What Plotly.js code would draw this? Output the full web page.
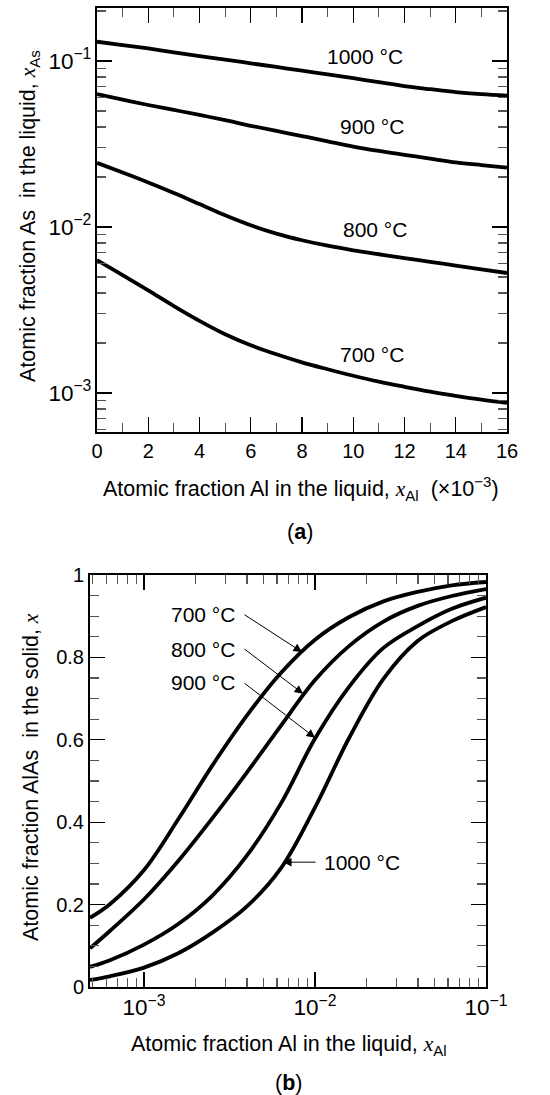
<!DOCTYPE html>
<html>
<head>
<meta charset="utf-8">
<script src="https://cdn.plot.ly/plotly-3.0.1.min.js"></script>
<style>
  html, body { margin: 0; padding: 0; background: #fff; }
  #chart { width: 550px; height: 1095px; }
</style>
</head>
<body>
<div id="chart"></div>
<script>
// ---------- Panel (a): x_As in liquid vs x_Al in liquid (x 10^-3) ----------
const xAlLiquid_a = [0, 1, 2, 3, 4, 5, 6, 7, 8, 9, 10, 11, 12, 13, 14, 15, 16];
const xAs_1000 = [0.1306, 0.1247, 0.1189, 0.1127, 0.1069, 0.1019, 0.0968, 0.0920, 0.0875, 0.0830, 0.0787, 0.0745, 0.0706, 0.0676, 0.0649, 0.0631, 0.0618];
const xAs_900  = [0.0631, 0.0585, 0.0543, 0.0507, 0.0473, 0.0440, 0.0407, 0.0379, 0.0353, 0.0328, 0.0305, 0.0287, 0.0272, 0.0258, 0.0245, 0.0236, 0.0228];
const xAs_800  = [0.02432, 0.02128, 0.01854, 0.01603, 0.01374, 0.01175, 0.01023, 0.00912, 0.00832, 0.00771, 0.00724, 0.00685, 0.00649, 0.00617, 0.00585, 0.00556, 0.00528];
const xAs_700  = [0.00632, 0.00513, 0.00415, 0.00334, 0.00272, 0.00226, 0.00194, 0.00171, 0.00153, 0.00139, 0.00127, 0.00117, 0.00109, 0.00102, 0.000962, 0.000912, 0.000871];
const labels_a = ['1000 °C', '900 °C', '800 °C', '700 °C'];

// ---------- Panel (b): x in solid AlAs vs x_Al in liquid ----------
const xAlLiquid_b = [4.83e-4, 6.31e-4, 1.0e-3, 1.585e-3, 2.512e-3, 3.981e-3, 6.31e-3, 0.01, 0.01585, 0.02512, 0.03981, 0.0631, 0.1];
const xSolid_700  = [0.168, 0.201, 0.284, 0.407, 0.538, 0.658, 0.762, 0.843, 0.898, 0.936, 0.959, 0.975, 0.983];
const xSolid_800  = [0.094, 0.136, 0.213, 0.306, 0.410, 0.520, 0.634, 0.745, 0.828, 0.887, 0.925, 0.949, 0.966];
const xSolid_900  = [0.049, 0.065, 0.103, 0.153, 0.222, 0.318, 0.445, 0.603, 0.729, 0.823, 0.876, 0.918, 0.945];
const xSolid_1000 = [0.017, 0.026, 0.047, 0.082, 0.132, 0.195, 0.288, 0.436, 0.605, 0.748, 0.840, 0.888, 0.922];
const labels_b = ['700 °C', '800 °C', '900 °C', '1000 °C'];

const FONT = 'Liberation Sans, Arial, Helvetica, sans-serif';
const SERIF = 'Liberation Serif, Times New Roman, serif';
const lineStyle = {color: '#000', width: 3.8, shape: 'spline', smoothing: 1.0};

function tr(x, y, xa, ya, name) {
  return {x: x, y: y, xaxis: xa, yaxis: ya, mode: 'lines', line: lineStyle, name: name, hoverinfo: 'skip'};
}
const traces = [
  tr(xAlLiquid_a, xAs_1000, 'x', 'y', labels_a[0]),
  tr(xAlLiquid_a, xAs_900,  'x', 'y', labels_a[1]),
  tr(xAlLiquid_a, xAs_800,  'x', 'y', labels_a[2]),
  tr(xAlLiquid_a, xAs_700,  'x', 'y', labels_a[3]),
  tr(xAlLiquid_b, xSolid_700,  'x2', 'y2', labels_b[0]),
  tr(xAlLiquid_b, xSolid_800,  'x2', 'y2', labels_b[1]),
  tr(xAlLiquid_b, xSolid_900,  'x2', 'y2', labels_b[2]),
  tr(xAlLiquid_b, xSolid_1000, 'x2', 'y2', labels_b[3])
];

const minorStyle = {ticks: 'inside', ticklen: 9, tickwidth: 1.2, tickcolor: '#555'};
const axisBase = {
  showline: true, linecolor: '#000', linewidth: 2, mirror: 'allticks',
  ticks: 'inside', ticklen: 15, tickwidth: 1.4, tickcolor: '#000',
  showgrid: false, zeroline: false,
  tickfont: {family: FONT, size: 20, color: '#000'}
};
const logTickFont = {family: FONT, size: 18, color: '#000'};

const layout = {
  width: 550, height: 1095,
  margin: {l: 0, r: 0, t: 0, b: 0},
  paper_bgcolor: '#fff', plot_bgcolor: '#fff',
  showlegend: false,
  font: {family: FONT, color: '#000'},
  xaxis: Object.assign({}, axisBase, {
    domain: [97 / 550, 507 / 550], anchor: 'y', range: [0, 16], dtick: 2, tick0: 0,
    minor: Object.assign({dtick: 1}, minorStyle)
  }),
  yaxis: Object.assign({}, axisBase, {
    domain: [1 - 432 / 1095, 1 - 8 / 1095], anchor: 'x', type: 'log', range: [-3.235, -0.681],
    dtick: 1, exponentformat: 'power', showexponent: 'all', tickfont: logTickFont,
    minor: Object.assign({dtick: 'D1'}, minorStyle)
  }),
  xaxis2: Object.assign({}, axisBase, {
    domain: [90 / 550, 486 / 550], anchor: 'y2', type: 'log', range: [-3.316, -1],
    dtick: 1, exponentformat: 'power', showexponent: 'all', tickfont: logTickFont,
    minor: Object.assign({dtick: 'D1'}, minorStyle)
  }),
  yaxis2: Object.assign({}, axisBase, {
    domain: [1 - 987 / 1095, 1 - 575 / 1095], anchor: 'x2', range: [0, 1], dtick: 0.2, tick0: 0,
    minor: Object.assign({dtick: 0.05}, minorStyle)
  }),
  annotations: []
};

const A = layout.annotations;
const lblFont = {family: FONT, size: 21, color: '#000'};
const titleFont = {family: FONT, size: 21.5, color: '#000'};
const xi = '<span style="font-family:' + SERIF + '"><i>x</i></span>';

// Panel (a) curve labels (y given as log10)
const posA = [[10.46, -0.974], [10.74, -1.393], [10.85, -2.018], [10.74, -2.771]];
labels_a.forEach((t, i) => A.push({xref: 'x', yref: 'y', x: posA[i][0], y: posA[i][1], text: t,
  showarrow: false, font: lblFont, xanchor: 'center', yanchor: 'middle'}));

// Panel (b) labels (x given as log10)
A.push({xref: 'x2', yref: 'y2', x: -2.456, y: 0.903, text: labels_b[0], showarrow: false, font: lblFont, xanchor: 'right', yanchor: 'middle'});
A.push({xref: 'x2', yref: 'y2', x: -2.456, y: 0.820, text: labels_b[1], showarrow: false, font: lblFont, xanchor: 'right', yanchor: 'middle'});
A.push({xref: 'x2', yref: 'y2', x: -2.456, y: 0.738, text: labels_b[2], showarrow: false, font: lblFont, xanchor: 'right', yanchor: 'middle'});
A.push({xref: 'x2', yref: 'y2', x: -1.959, y: 0.303, text: labels_b[3], showarrow: false, font: lblFont, xanchor: 'left', yanchor: 'middle'});
// Arrows: [tail x, tail y, head x, head y]
const arrows = [
  [-2.421, 0.906, -2.076, 0.813],
  [-2.421, 0.823, -2.070, 0.712],
  [-2.421, 0.740, -2.000, 0.605],
  [-1.988, 0.303, -2.187, 0.303]
];
arrows.forEach(a => A.push({xref: 'x2', yref: 'y2', axref: 'x2', ayref: 'y2',
  ax: a[0], ay: a[1], x: a[2], y: a[3], text: '', showarrow: true,
  arrowhead: 2, arrowsize: 1.7, arrowwidth: 1, arrowcolor: '#000', standoff: 0, startstandoff: 0}));

// Axis titles & panel captions
A.push({xref: 'paper', yref: 'paper', x: 301 / 550, y: 1 - 488 / 1095,
  text: 'Atomic fraction Al in the liquid, ' + xi + '<sub>Al</sub>  (×10<sup>−3</sup>)',
  showarrow: false, font: titleFont, xanchor: 'center', yanchor: 'middle'});
A.push({xref: 'paper', yref: 'paper', x: 300 / 550, y: 1 - 532 / 1095, text: '(<b>a</b>)',
  showarrow: false, font: titleFont, xanchor: 'center', yanchor: 'middle'});
A.push({xref: 'paper', yref: 'paper', x: 30 / 550, y: 1 - 216 / 1095,
  text: 'Atomic fraction As  in the liquid, ' + xi + '<sub>As</sub>',
  showarrow: false, font: titleFont, textangle: -90, xanchor: 'center', yanchor: 'middle'});
A.push({xref: 'paper', yref: 'paper', x: 289 / 550, y: 1 - 1045 / 1095,
  text: 'Atomic fraction Al in the liquid, ' + xi + '<sub>Al</sub>',
  showarrow: false, font: titleFont, xanchor: 'center', yanchor: 'middle'});
A.push({xref: 'paper', yref: 'paper', x: 288 / 550, y: 1 - 1083 / 1095, text: '(<b>b</b>)',
  showarrow: false, font: titleFont, xanchor: 'center', yanchor: 'middle'});
A.push({xref: 'paper', yref: 'paper', x: 31 / 550, y: 1 - 777 / 1095,
  text: 'Atomic fraction AlAs  in the solid, ' + xi,
  showarrow: false, font: titleFont, textangle: -90, xanchor: 'center', yanchor: 'middle'});

Plotly.newPlot('chart', traces, layout, {staticPlot: true, displayModeBar: false});
</script>
</body>
</html>
